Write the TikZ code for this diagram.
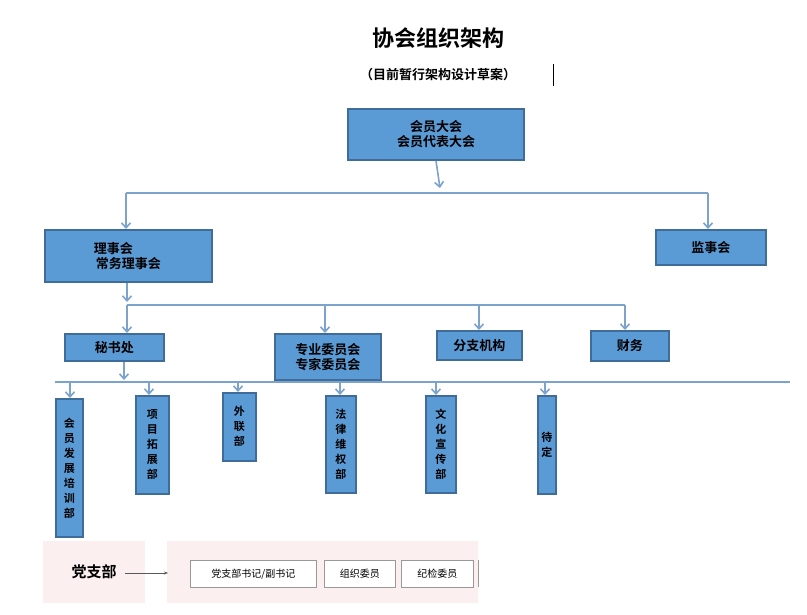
\documentclass[tikz,border=0pt]{standalone}
\usepackage{fontspec}
\setmainfont{Noto Sans CJK SC}
\newfontfamily\cjkb{Noto Sans CJK SC Bold}
\usetikzlibrary{arrows.meta}
\definecolor{bfill}{HTML}{5B9BD5}
\definecolor{bdraw}{HTML}{3F6C98}
\definecolor{lcol}{HTML}{7BA3CC}
\definecolor{pinkbg}{HTML}{FCEFEF}
\begin{document}
\begin{tikzpicture}[x=1pt,y=-1pt,
  box/.style={draw=bdraw,line width=1.6pt,fill=bfill,inner sep=0pt,font=\cjkb\fontsize{13}{15}\selectfont,align=center},
  vbox/.style={box,font=\cjkb\fontsize{11}{15}\selectfont},
  conn/.style={draw=lcol,line width=1.6pt},
  arr/.style={conn,-{Straight Barb[length=5pt,width=9pt]}},
  wbox/.style={draw=gray!80,fill=white,line width=0.6pt,font=\fontsize{10}{12}\selectfont,inner sep=0pt}]
\useasboundingbox (0,0) rectangle (807,615);
\fill[white] (0,0) rectangle (807,615);
\node[font=\cjkb\fontsize{22}{26}\selectfont] (title) at (438,38) {协会组织架构};
\node[font=\cjkb\fontsize{13}{15}\selectfont] (sub) at (438,75) {（目前暂行架构设计草案）};
\draw[line width=1pt] (553,64) -- (553,86);
% main boxes
\path (348,109) rectangle (524,160) node[box,minimum width=176pt,minimum height=51pt,midway] (hy) {会员大会\\会员代表大会};
\node[box,minimum width=167pt,minimum height=52pt,anchor=north west] (ls) at (44,229) {\hspace{-30pt}理事会\\常务理事会\hspace{-5pt}};
\node[box,minimum width=110pt,minimum height=35pt,anchor=north west] (js) at (655,229) {监事会};
\node[box,minimum width=99pt,minimum height=27pt,anchor=north west] (ms) at (64,333) {秘书处};
\node[box,minimum width=106pt,minimum height=46pt,anchor=north west] (zy) at (274,333) {专业委员会\\专家委员会};
\node[box,minimum width=85pt,minimum height=29pt,anchor=north west] (fz) at (436,330) {分支机构};
\node[box,minimum width=78pt,minimum height=30pt,anchor=north west] (cw) at (590,330) {财务};
% vertical boxes
\node[vbox,minimum width=27pt,minimum height=138pt,anchor=north west] (v1) at (55,398) {会\\员\\发\\展\\培\\训\\部};
\node[vbox,minimum width=33pt,minimum height=98pt,anchor=north west] (v2) at (135,395) {项\\目\\拓\\展\\部};
\node[vbox,minimum width=33pt,minimum height=68pt,anchor=north west] (v3) at (222,392) {外\\联\\部};
\node[vbox,minimum width=30pt,minimum height=97pt,anchor=north west] (v4) at (325,395) {法\\律\\维\\权\\部};
\node[vbox,minimum width=30pt,minimum height=97pt,anchor=north west] (v5) at (425,395) {文\\化\\宣\\传\\部};
\node[vbox,minimum width=18pt,minimum height=98pt,anchor=north west] (v6) at (537,395) {待\\定};
% connectors level 1
\coordinate (j1) at (440,188);
\draw[arr] (hy.south) -- (j1);
\draw[conn] (126,193) -- (708,193);
\draw[arr] (126,193) -- (ls.north -| 126,0);
\draw[arr] (708,193) -- (js.north -| 708,0);
% level 2
\coordinate (j2) at (127,302);
\draw[arr] (ls.south -| 127,0) -- (j2);
\draw[conn] (127,305) -- (625,305);
\draw[arr] (127,305) -- (ms.north -| 127,0);
\draw[arr] (325,305) -- (zy.north -| 325,0);
\draw[arr] (479,305) -- (fz.north -| 479,0);
\draw[arr] (625,305) -- (cw.north -| 625,0);
% level 3
\coordinate (j3) at (124,380);
\draw[arr] (ms.south -| 124,0) -- (j3);
\draw[conn] (55,382) -- (790,382);
\draw[arr] (70,382) -- (v1.north -| 70,0);
\draw[arr] (149,382) -- (v2.north -| 149,0);
\draw[arr] (238,382) -- (v3.north -| 238,0);
\draw[arr] (340,382) -- (v4.north -| 340,0);
\draw[arr] (436,382) -- (v5.north -| 436,0);
\draw[arr] (545,382) -- (v6.north -| 545,0);
% party branch
\fill[pinkbg] (43,541) rectangle (145,603);
\fill[pinkbg] (167,541) rectangle (478,603);
\node[font=\cjkb\fontsize{15}{18}\selectfont] (dz) at (94,572) {党支部};
\node[wbox,minimum width=126pt,minimum height=27pt,anchor=north west] (w1) at (190,560) {党支部书记/副书记};
\node[wbox,minimum width=71pt,minimum height=27pt,anchor=north west] (w2) at (324,560) {组织委员};
\node[wbox,minimum width=72pt,minimum height=27pt,anchor=north west] (w3) at (401,560) {纪检委员};
\draw[gray!80,line width=0.6pt] (478,560) -- (478,587);
\draw[-{Stealth[length=4pt]},line width=0.6pt,gray!70!black] (dz.east)++(5,1) -- (168,573);
\end{tikzpicture}
\end{document}
